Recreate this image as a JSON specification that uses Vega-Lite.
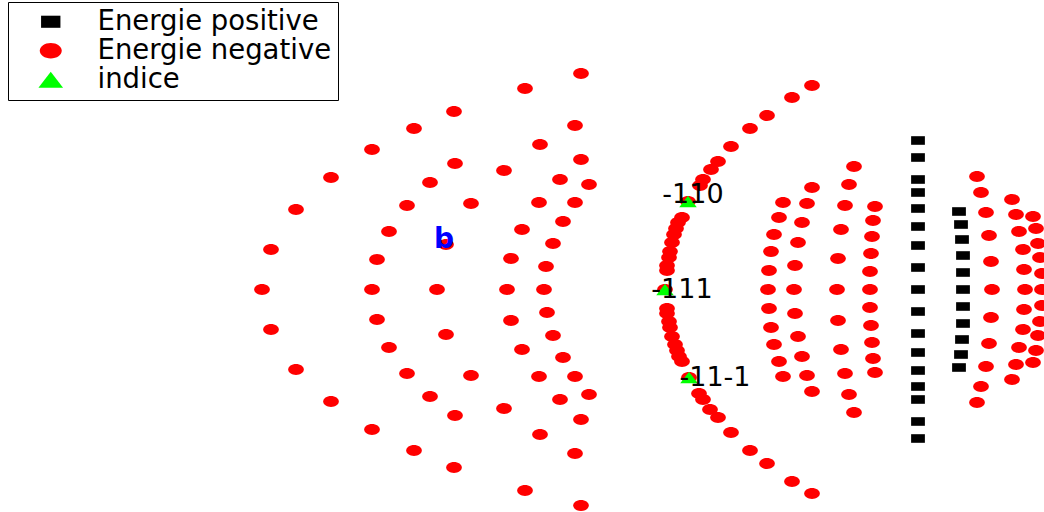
{
  "$schema": "https://vega.github.io/schema/vega-lite/v6.json",
  "width": 1044,
  "height": 512,
  "padding": 0,
  "autosize": "none",
  "background": "white",
  "config": {
    "view": {"stroke": null},
    "legend": {
      "orient": "none",
      "legendX": 8,
      "legendY": 2,
      "padding": 6,
      "strokeColor": "black",
      "fillColor": "white",
      "labelFont": "DejaVu Sans",
      "labelFontSize": 27.5,
      "labelColor": "black",
      "labelLimit": 400,
      "symbolSize": 484,
      "symbolOffset": 23,
      "labelOffset": 33,
      "rowPadding": 0,
      "symbolStrokeWidth": 0
    }
  },
  "datasets": {
    "points": [
      {"serie": "Energie positive", "x": 918, "y": 149}, {"serie": "Energie positive", "x": 918, "y": 132},
      {"serie": "Energie positive", "x": 918, "y": 110}, {"serie": "Energie positive", "x": 918, "y": 97},
      {"serie": "Energie positive", "x": 918, "y": 81}, {"serie": "Energie positive", "x": 918, "y": 63},
      {"serie": "Energie positive", "x": 918, "y": 44}, {"serie": "Energie positive", "x": 918, "y": 22},
      {"serie": "Energie positive", "x": 918, "y": 0}, {"serie": "Energie positive", "x": 918, "y": -22},
      {"serie": "Energie positive", "x": 918, "y": -44}, {"serie": "Energie positive", "x": 918, "y": -63},
      {"serie": "Energie positive", "x": 918, "y": -81}, {"serie": "Energie positive", "x": 918, "y": -97},
      {"serie": "Energie positive", "x": 918, "y": -110}, {"serie": "Energie positive", "x": 918, "y": -132},
      {"serie": "Energie positive", "x": 918, "y": -149},
      {"serie": "Energie positive", "x": 959, "y": 78}, {"serie": "Energie positive", "x": 961, "y": 65},
      {"serie": "Energie positive", "x": 962, "y": 50}, {"serie": "Energie positive", "x": 963, "y": 34},
      {"serie": "Energie positive", "x": 963, "y": 17}, {"serie": "Energie positive", "x": 963, "y": 0},
      {"serie": "Energie positive", "x": 963, "y": -17}, {"serie": "Energie positive", "x": 963, "y": -34},
      {"serie": "Energie positive", "x": 962, "y": -50}, {"serie": "Energie positive", "x": 961, "y": -65},
      {"serie": "Energie positive", "x": 959, "y": -78},

      {"serie": "Energie negative", "x": 262, "y": 0},
      {"serie": "Energie negative", "x": 271, "y": 40}, {"serie": "Energie negative", "x": 271, "y": -40},
      {"serie": "Energie negative", "x": 296, "y": 80}, {"serie": "Energie negative", "x": 296, "y": -80},
      {"serie": "Energie negative", "x": 331, "y": 112}, {"serie": "Energie negative", "x": 331, "y": -112},
      {"serie": "Energie negative", "x": 372, "y": 140}, {"serie": "Energie negative", "x": 372, "y": -140},
      {"serie": "Energie negative", "x": 414, "y": 161}, {"serie": "Energie negative", "x": 414, "y": -161},
      {"serie": "Energie negative", "x": 454, "y": 178}, {"serie": "Energie negative", "x": 454, "y": -178},
      {"serie": "Energie negative", "x": 525, "y": 201}, {"serie": "Energie negative", "x": 525, "y": -201},
      {"serie": "Energie negative", "x": 581, "y": 216}, {"serie": "Energie negative", "x": 581, "y": -216},

      {"serie": "Energie negative", "x": 372, "y": 0},
      {"serie": "Energie negative", "x": 377, "y": 30}, {"serie": "Energie negative", "x": 377, "y": -30},
      {"serie": "Energie negative", "x": 389, "y": 58}, {"serie": "Energie negative", "x": 389, "y": -58},
      {"serie": "Energie negative", "x": 407, "y": 84}, {"serie": "Energie negative", "x": 407, "y": -84},
      {"serie": "Energie negative", "x": 430, "y": 107}, {"serie": "Energie negative", "x": 430, "y": -107},
      {"serie": "Energie negative", "x": 455, "y": 126}, {"serie": "Energie negative", "x": 455, "y": -126},

      {"serie": "Energie negative", "x": 437, "y": 0},
      {"serie": "Energie negative", "x": 446, "y": 45}, {"serie": "Energie negative", "x": 446, "y": -45},
      {"serie": "Energie negative", "x": 471, "y": 86}, {"serie": "Energie negative", "x": 471, "y": -86},
      {"serie": "Energie negative", "x": 504, "y": 119}, {"serie": "Energie negative", "x": 504, "y": -119},
      {"serie": "Energie negative", "x": 540, "y": 145}, {"serie": "Energie negative", "x": 540, "y": -145},
      {"serie": "Energie negative", "x": 575, "y": 164}, {"serie": "Energie negative", "x": 575, "y": -164},

      {"serie": "Energie negative", "x": 507, "y": 0},
      {"serie": "Energie negative", "x": 511, "y": 31}, {"serie": "Energie negative", "x": 511, "y": -31},
      {"serie": "Energie negative", "x": 522, "y": 60}, {"serie": "Energie negative", "x": 522, "y": -60},
      {"serie": "Energie negative", "x": 539, "y": 87}, {"serie": "Energie negative", "x": 539, "y": -87},
      {"serie": "Energie negative", "x": 560, "y": 110}, {"serie": "Energie negative", "x": 560, "y": -110},
      {"serie": "Energie negative", "x": 581, "y": 130}, {"serie": "Energie negative", "x": 581, "y": -130},

      {"serie": "Energie negative", "x": 544, "y": 0},
      {"serie": "Energie negative", "x": 546, "y": 23}, {"serie": "Energie negative", "x": 547, "y": -23},
      {"serie": "Energie negative", "x": 553, "y": 46}, {"serie": "Energie negative", "x": 553, "y": -46},
      {"serie": "Energie negative", "x": 563, "y": 68}, {"serie": "Energie negative", "x": 563, "y": -68},
      {"serie": "Energie negative", "x": 575, "y": 87}, {"serie": "Energie negative", "x": 575, "y": -87},
      {"serie": "Energie negative", "x": 589, "y": 105}, {"serie": "Energie negative", "x": 589, "y": -105},

      {"serie": "Energie negative", "x": 812, "y": 204}, {"serie": "Energie negative", "x": 812, "y": -204},
      {"serie": "Energie negative", "x": 792, "y": 192}, {"serie": "Energie negative", "x": 792, "y": -192},
      {"serie": "Energie negative", "x": 767, "y": 174}, {"serie": "Energie negative", "x": 767, "y": -174},
      {"serie": "Energie negative", "x": 750, "y": 161}, {"serie": "Energie negative", "x": 750, "y": -161},
      {"serie": "Energie negative", "x": 731, "y": 143}, {"serie": "Energie negative", "x": 731, "y": -143},
      {"serie": "Energie negative", "x": 718, "y": 128}, {"serie": "Energie negative", "x": 718, "y": -128},
      {"serie": "Energie negative", "x": 711, "y": 120}, {"serie": "Energie negative", "x": 710, "y": -120},
      {"serie": "Energie negative", "x": 703, "y": 110}, {"serie": "Energie negative", "x": 703, "y": -110},
      {"serie": "Energie negative", "x": 700, "y": 104}, {"serie": "Energie negative", "x": 699, "y": -104},
      {"serie": "Energie negative", "x": 688, "y": 88}, {"serie": "Energie negative", "x": 689, "y": -88},
      {"serie": "Energie negative", "x": 682, "y": 72}, {"serie": "Energie negative", "x": 682, "y": -72},
      {"serie": "Energie negative", "x": 678, "y": 67}, {"serie": "Energie negative", "x": 679, "y": -67},
      {"serie": "Energie negative", "x": 676, "y": 61}, {"serie": "Energie negative", "x": 677, "y": -61},
      {"serie": "Energie negative", "x": 674, "y": 55}, {"serie": "Energie negative", "x": 675, "y": -55},
      {"serie": "Energie negative", "x": 672, "y": 47}, {"serie": "Energie negative", "x": 672, "y": -47},
      {"serie": "Energie negative", "x": 670, "y": 38}, {"serie": "Energie negative", "x": 670, "y": -38},
      {"serie": "Energie negative", "x": 669, "y": 32}, {"serie": "Energie negative", "x": 669, "y": -32},
      {"serie": "Energie negative", "x": 667, "y": 24}, {"serie": "Energie negative", "x": 667, "y": -24},
      {"serie": "Energie negative", "x": 667, "y": 19}, {"serie": "Energie negative", "x": 667, "y": -19},
      {"serie": "Energie negative", "x": 665, "y": 0},

      {"serie": "Energie negative", "x": 783, "y": 87}, {"serie": "Energie negative", "x": 783, "y": -87},
      {"serie": "Energie negative", "x": 779, "y": 72}, {"serie": "Energie negative", "x": 779, "y": -72},
      {"serie": "Energie negative", "x": 774, "y": 55}, {"serie": "Energie negative", "x": 774, "y": -55},
      {"serie": "Energie negative", "x": 771, "y": 38}, {"serie": "Energie negative", "x": 771, "y": -38},
      {"serie": "Energie negative", "x": 769, "y": 19}, {"serie": "Energie negative", "x": 769, "y": -19},
      {"serie": "Energie negative", "x": 768, "y": 0},

      {"serie": "Energie negative", "x": 812, "y": 102}, {"serie": "Energie negative", "x": 812, "y": -102},
      {"serie": "Energie negative", "x": 807, "y": 86}, {"serie": "Energie negative", "x": 807, "y": -86},
      {"serie": "Energie negative", "x": 802, "y": 67}, {"serie": "Energie negative", "x": 802, "y": -67},
      {"serie": "Energie negative", "x": 798, "y": 47}, {"serie": "Energie negative", "x": 798, "y": -47},
      {"serie": "Energie negative", "x": 795, "y": 24}, {"serie": "Energie negative", "x": 795, "y": -24},
      {"serie": "Energie negative", "x": 794, "y": 0},

      {"serie": "Energie negative", "x": 854, "y": 123}, {"serie": "Energie negative", "x": 854, "y": -123},
      {"serie": "Energie negative", "x": 849, "y": 105}, {"serie": "Energie negative", "x": 849, "y": -105},
      {"serie": "Energie negative", "x": 845, "y": 84}, {"serie": "Energie negative", "x": 845, "y": -84},
      {"serie": "Energie negative", "x": 841, "y": 60}, {"serie": "Energie negative", "x": 841, "y": -60},
      {"serie": "Energie negative", "x": 838, "y": 31}, {"serie": "Energie negative", "x": 838, "y": -31},
      {"serie": "Energie negative", "x": 837, "y": 0},

      {"serie": "Energie negative", "x": 875, "y": 83}, {"serie": "Energie negative", "x": 875, "y": -83},
      {"serie": "Energie negative", "x": 873, "y": 69}, {"serie": "Energie negative", "x": 873, "y": -69},
      {"serie": "Energie negative", "x": 872, "y": 53}, {"serie": "Energie negative", "x": 872, "y": -53},
      {"serie": "Energie negative", "x": 871, "y": 36}, {"serie": "Energie negative", "x": 871, "y": -36},
      {"serie": "Energie negative", "x": 870, "y": 18}, {"serie": "Energie negative", "x": 870, "y": -18},
      {"serie": "Energie negative", "x": 870, "y": 0},

      {"serie": "Energie negative", "x": 977, "y": 113}, {"serie": "Energie negative", "x": 977, "y": -113},
      {"serie": "Energie negative", "x": 981, "y": 97}, {"serie": "Energie negative", "x": 981, "y": -97},
      {"serie": "Energie negative", "x": 986, "y": 77}, {"serie": "Energie negative", "x": 986, "y": -77},
      {"serie": "Energie negative", "x": 989, "y": 54}, {"serie": "Energie negative", "x": 989, "y": -54},
      {"serie": "Energie negative", "x": 991, "y": 28}, {"serie": "Energie negative", "x": 991, "y": -28},
      {"serie": "Energie negative", "x": 992, "y": 0},

      {"serie": "Energie negative", "x": 1012, "y": 90}, {"serie": "Energie negative", "x": 1012, "y": -90},
      {"serie": "Energie negative", "x": 1016, "y": 75}, {"serie": "Energie negative", "x": 1016, "y": -75},
      {"serie": "Energie negative", "x": 1019, "y": 58}, {"serie": "Energie negative", "x": 1019, "y": -58},
      {"serie": "Energie negative", "x": 1023, "y": 40}, {"serie": "Energie negative", "x": 1023, "y": -40},
      {"serie": "Energie negative", "x": 1024, "y": 20}, {"serie": "Energie negative", "x": 1024, "y": -20},
      {"serie": "Energie negative", "x": 1025, "y": 0},

      {"serie": "Energie negative", "x": 1033, "y": 73}, {"serie": "Energie negative", "x": 1033, "y": -73},
      {"serie": "Energie negative", "x": 1036, "y": 61}, {"serie": "Energie negative", "x": 1036, "y": -61},
      {"serie": "Energie negative", "x": 1038, "y": 46}, {"serie": "Energie negative", "x": 1038, "y": -46},
      {"serie": "Energie negative", "x": 1040, "y": 32}, {"serie": "Energie negative", "x": 1040, "y": -32},
      {"serie": "Energie negative", "x": 1042, "y": 16}, {"serie": "Energie negative", "x": 1042, "y": -16},
      {"serie": "Energie negative", "x": 1042, "y": 0},

      {"serie": "indice", "x": 688, "y": 88},
      {"serie": "indice", "x": 665, "y": 0},
      {"serie": "indice", "x": 689, "y": -88}
    ],
    "indices": [
      {"label": "-110", "x": 693, "y": 95},
      {"label": "-111", "x": 682, "y": 0},
      {"label": "-11-1", "x": 715, "y": -88}
    ],
    "marker": [
      {"label": "b", "x": 444, "y": 50}
    ]
  },
  "layer": [
    {
      "data": {"name": "points"},
      "mark": {"type": "point", "filled": true, "opacity": 1, "size": 245, "strokeWidth": 0},
      "encoding": {
        "x": {"field": "x", "type": "quantitative", "axis": null,
              "scale": {"domain": [0, 1044], "nice": false, "zero": false}},
        "y": {"field": "y", "type": "quantitative", "axis": null,
              "scale": {"domain": [-222.5, 289.5], "nice": false, "zero": false}},
        "color": {
          "field": "serie", "type": "nominal", "title": null,
          "scale": {"domain": ["Energie positive", "Energie negative", "indice"],
                    "range": ["#000000", "#ff0000", "#00ff00"]}
        },
        "shape": {
          "field": "serie", "type": "nominal", "title": null,
          "scale": {"domain": ["Energie positive", "Energie negative", "indice"],
                    "range": ["M-0.88,-0.55H0.88V0.55H-0.88Z",
                              "M-1,0A1,0.7,0,1,1,1,0A1,0.7,0,1,1,-1,0Z",
                              "M0,-0.72L1.12,0.72L-1.12,0.72Z"]}
        }
      }
    },
    {
      "data": {"name": "indices"},
      "mark": {"type": "text", "font": "DejaVu Sans", "fontSize": 27, "color": "black",
               "align": "center", "baseline": "middle"},
      "encoding": {
        "x": {"field": "x", "type": "quantitative"},
        "y": {"field": "y", "type": "quantitative"},
        "text": {"field": "label"}
      }
    },
    {
      "data": {"name": "marker"},
      "mark": {"type": "text", "font": "DejaVu Sans", "fontSize": 28, "fontWeight": "bold",
               "color": "#0000ff", "align": "center", "baseline": "middle"},
      "encoding": {
        "x": {"field": "x", "type": "quantitative"},
        "y": {"field": "y", "type": "quantitative"},
        "text": {"field": "label"}
      }
    }
  ]
}
